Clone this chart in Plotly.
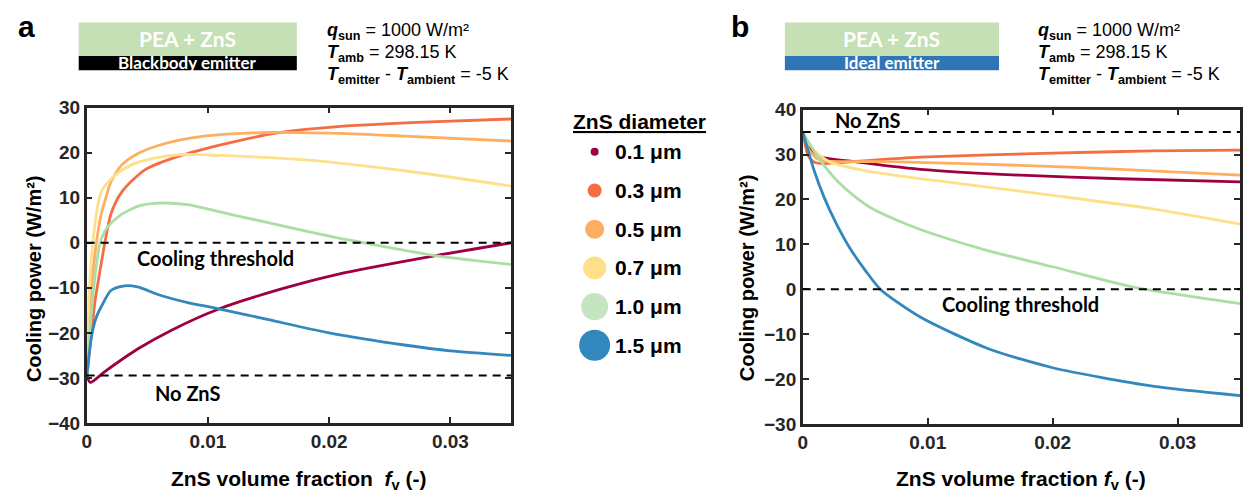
import plotly.graph_objects as go

# ---------------- data ----------------
diameters = ["0.1 μm", "0.3 μm", "0.5 μm", "0.7 μm", "1.0 μm", "1.5 μm"]
line_colors = ["#9E0142", "#F46D43", "#FDAE61", "#FEE08B", "#ABDDA4", "#3288BD"]
legend_colors = ["#9E0142", "#F46D43", "#FDAE61", "#FEE08B", "#C5E5C0", "#3288BD"]
legend_sizes = [8, 14, 19, 23, 27, 31]

x_ticks = [0, 0.01, 0.02, 0.03]
x_ticktext = ["0", "0.01", "0.02", "0.03"]

# (a) blackbody emitter
a_x01 = [0, 0.0003, 0.0015, 0.0042, 0.007, 0.0108, 0.016, 0.0207, 0.0289, 0.035]
a_y01 = [-29.5, -31, -28.6, -23.6, -19.4, -14.8, -10.3, -7.0, -2.8, 0]
a_x03 = [0, 0.0004, 0.0007, 0.001, 0.0015, 0.002, 0.0029, 0.0048, 0.0078, 0.0124, 0.016, 0.0207, 0.0289, 0.035]
a_y03 = [-30, -20, -12.7, -7.8, 0, 6.4, 11.3, 16.2, 19.4, 22.6, 24.5, 25.8, 26.9, 27.5]
a_x05 = [0, 0.0004, 0.0008, 0.0012, 0.0015, 0.002, 0.0029, 0.0042, 0.0064, 0.0097, 0.0152, 0.0207, 0.0262, 0.035]
a_y05 = [-30, -10, 0, 6.4, 9.2, 13.5, 17.3, 19.8, 22, 23.7, 24.5, 24.3, 23.7, 22.6]
a_x07 = [0, 0.0002, 0.0005, 0.0012, 0.0023, 0.0037, 0.0056, 0.0078, 0.011, 0.018, 0.0262, 0.035]
a_y07 = [-30, -12, 0, 11.3, 14.9, 17.3, 18.8, 19.6, 19.4, 18.4, 16, 12.6]
a_x10 = [0, 0.0004, 0.0008, 0.0011, 0.0017, 0.0027, 0.0042, 0.0059, 0.0083, 0.0124, 0.0166, 0.0207, 0.0229, 0.0289, 0.035]
a_y10 = [-30, -15, -5, 0, 3.4, 6, 8.1, 8.8, 8.5, 6, 3.5, 1.1, 0, -2.9, -4.8]
a_x15 = [0, 0.0004, 0.0008, 0.0012, 0.002, 0.003, 0.0042, 0.006, 0.0085, 0.0108, 0.0152, 0.02, 0.0262, 0.03, 0.035]
a_y15 = [-30, -20.8, -16.5, -14.2, -10.6, -9.6, -9.8, -11.6, -13.4, -14.6, -17.2, -20, -22.7, -24, -25]

# (b) ideal emitter
b_x01 = [0, 0.0005, 0.0014, 0.0041, 0.0094, 0.0174, 0.0254, 0.035]
b_y01 = [35, 31.5, 29.5, 28.4, 26.7, 25.4, 24.6, 23.9]
b_x03 = [0, 0.0004, 0.0009, 0.0015, 0.003, 0.006, 0.0094, 0.02, 0.028, 0.035]
b_y03 = [35, 30, 28.3, 28.0, 28.2, 28.8, 29.4, 30.3, 30.8, 31]
b_x05 = [0, 0.0005, 0.0012, 0.002, 0.0068, 0.0174, 0.0254, 0.035]
b_y05 = [35, 31, 29, 28.5, 28.4, 27.6, 26.7, 25.4]
b_x07 = [0, 0.0006, 0.0012, 0.0022, 0.0054, 0.0121, 0.02, 0.028, 0.035]
b_y07 = [35, 32, 30.2, 28.3, 26.2, 23.7, 20.9, 17.9, 14.5]
b_x10 = [0, 0.0008, 0.0017, 0.0028, 0.004, 0.0054, 0.0075, 0.0094, 0.0148, 0.02, 0.0266, 0.035]
b_y10 = [35, 31.2, 27.6, 24.0, 21.0, 18.2, 15.4, 13.3, 8.6, 5.0, 0.4, -3.2]
b_x15 = [0, 0.0009, 0.0017, 0.0027, 0.0038, 0.005, 0.0062, 0.0094, 0.0148, 0.02, 0.028, 0.035]
b_y15 = [35, 26.5, 20.5, 14.5, 9, 4.2, 0, -6.2, -13.2, -17.5, -21.6, -23.7]

no_zns_a = -29.5
no_zns_b = 35
threshold = 0

series_a = [(a_x01, a_y01), (a_x03, a_y03), (a_x05, a_y05), (a_x07, a_y07), (a_x10, a_y10), (a_x15, a_y15)]
series_b = [(b_x01, b_y01), (b_x03, b_y03), (b_x05, b_y05), (b_x07, b_y07), (b_x10, b_y10), (b_x15, b_y15)]

# ---------------- geometry (page is 1254 x 500) ----------------
W, H = 1254, 500
def px(x):
    return x / W
def py(y):
    return 1 - y / H

ARIAL = "Liberation Sans, Arial, sans-serif"
CALIBRI = "Lato, Open Sans, sans-serif"
AXC = "#262626"

fig = go.Figure()

for (xs, ys), col in zip(series_a, line_colors):
    fig.add_trace(go.Scatter(x=xs, y=ys, mode="lines", line=dict(color=col, width=2.8, shape="spline", smoothing=0.7),
                             xaxis="x", yaxis="y", showlegend=False, hoverinfo="skip"))
for (xs, ys), col in zip(series_b, line_colors):
    fig.add_trace(go.Scatter(x=xs, y=ys, mode="lines", line=dict(color=col, width=2.8, shape="spline", smoothing=0.7),
                             xaxis="x2", yaxis="y2", showlegend=False, hoverinfo="skip"))

# legend swatches: circles growing with particle diameter
fig.add_trace(go.Scatter(x=[0] * len(diameters), y=list(range(len(diameters))), mode="markers",
                         marker=dict(size=legend_sizes, color=legend_colors, opacity=1, line=dict(width=0)),
                         xaxis="x3", yaxis="y3", showlegend=False, hoverinfo="skip", cliponaxis=False))

axis_common = dict(showline=True, linewidth=2.5, linecolor=AXC, mirror="allticks", ticks="inside",
                   ticklen=6, tickwidth=2, tickcolor=AXC, showgrid=False, zeroline=False,
                   tickfont=dict(family=ARIAL, size=19, color=AXC, weight="bold"))

fig.update_layout(
    width=W, height=H, margin=dict(l=0, r=0, t=0, b=0),
    paper_bgcolor="white", plot_bgcolor="white", showlegend=False,
    xaxis=dict(domain=[px(82), px(508)], range=[0, 0.035], tickvals=x_ticks, ticktext=x_ticktext,
               anchor="y", **axis_common),
    yaxis=dict(domain=[py(431), py(102)], range=[-40, 30], dtick=10, anchor="x", **axis_common),
    xaxis2=dict(domain=[px(801), px(1240)], range=[0, 0.035], tickvals=x_ticks, ticktext=x_ticktext,
                anchor="y2", **axis_common),
    yaxis2=dict(domain=[py(432), py(104)], range=[-30, 40], dtick=10, anchor="x2", **axis_common),
    xaxis3=dict(domain=[px(572), px(612)], range=[-1, 1], visible=False, anchor="y3"),
    yaxis3=dict(domain=[py(350), py(148)], range=[5, 0], visible=False, anchor="x3"),
)

# reference lines
dash = dict(color="black", width=2, dash="8px,6px")
fig.add_shape(type="line", xref="x domain", yref="y", x0=0, x1=1, y0=no_zns_a, y1=no_zns_a, line=dash)
fig.add_shape(type="line", xref="x domain", yref="y", x0=0, x1=1, y0=threshold, y1=threshold, line=dash)
fig.add_shape(type="line", xref="x2 domain", yref="y2", x0=0, x1=1, y0=no_zns_b, y1=no_zns_b, line=dash)
fig.add_shape(type="line", xref="x2 domain", yref="y2", x0=0, x1=1, y0=threshold, y1=threshold, line=dash)

# header boxes
fig.add_shape(type="rect", xref="paper", yref="paper", x0=px(74), x1=px(293), y0=py(48), y1=py(13),
              fillcolor="#C5E0B4", line=dict(width=0), layer="below")
fig.add_shape(type="rect", xref="paper", yref="paper", x0=px(74), x1=px(293), y0=py(63), y1=py(48),
              fillcolor="black", line=dict(width=0), layer="below")
fig.add_shape(type="rect", xref="paper", yref="paper", x0=px(783), x1=px(998), y0=py(48), y1=py(13),
              fillcolor="#C5E0B4", line=dict(width=0), layer="below")
fig.add_shape(type="rect", xref="paper", yref="paper", x0=px(783), x1=px(998), y0=py(63), y1=py(48),
              fillcolor="#2E75B6", line=dict(width=0), layer="below")

ann = []
def text(x, y, s, size, family=ARIAL, color="black", xanchor="center", yanchor="middle", xref="paper", yref="paper", **kw):
    ann.append(dict(x=x, y=y, xref=xref, yref=yref, text=s, showarrow=False, xanchor=xanchor, yanchor=yanchor,
                    font=dict(family=family, size=size, color=color), **kw))

# panel letters
text(px(22), py(17), "<b>a</b>", 30)
text(px(738), py(17), "<b>b</b>", 30)

# box captions
text(px(183.5), py(30), "<b>PEA + ZnS</b>", 21, family=CALIBRI, color="white")
text(px(183.5), py(55), "<b>Blackbody emitter</b>", 17, family=CALIBRI, color="white")
text(px(890.5), py(30), "<b>PEA + ZnS</b>", 21, family=CALIBRI, color="white")
text(px(890.5), py(55), "<b>Ideal emitter</b>", 17, family=CALIBRI, color="white")

# simulation conditions, one line each
cond_lines = ["<b><i>q</i></b><sub><b>sun</b></sub> = 1000 W/m²",
              "<b><i>T</i></b><sub><b>amb</b></sub> = 298.15 K",
              "<b><i>T</i></b><sub><b>emitter</b></sub> - <b><i>T</i></b><sub><b>ambient</b></sub> = -5 K"]
for k, line in enumerate(cond_lines):
    text(px(321), py(8 + 23 * k), line, 18, xanchor="left", yanchor="top", align="left")
    text(px(1035), py(8 + 23 * k), line, 18, xanchor="left", yanchor="top", align="left")

# axis titles
ytitle = "<b>Cooling power (W/m²)</b>"
text(px(29), py(280), ytitle, 20, textangle=-90)
text(px(745), py(280), ytitle, 20, textangle=-90)
text(px(295), py(491), "<b>ZnS volume fraction\u00a0\u00a0<i>f</i><sub>v</sub> (-)</b>", 21)
text(px(1020), py(491), "<b>ZnS volume fraction <i>f</i><sub>v</sub> (-)</b>", 21)

# in-plot labels
text(0.0106, -3.3, "<b>Cooling threshold</b>", 20, family=CALIBRI, xref="x", yref="y")
text(0.0083, -33.4, "<b>No ZnS</b>", 20, family=CALIBRI, xref="x", yref="y")
text(0.0052, 37.7, "<b>No ZnS</b>", 20, family=CALIBRI, xref="x2", yref="y2")
text(0.0174, -3.4, "<b>Cooling threshold</b>", 20, family=CALIBRI, xref="x2", yref="y2")

# legend title and labels
text(px(637), py(116), "<b><u>ZnS diameter</u></b>", 21)
for i, lab in enumerate(diameters):
    text(px(610), i, "<b>" + lab + "</b>", 21, xanchor="left", yref="y3")

fig.update_layout(annotations=ann)
fig.write_html("out.html")
